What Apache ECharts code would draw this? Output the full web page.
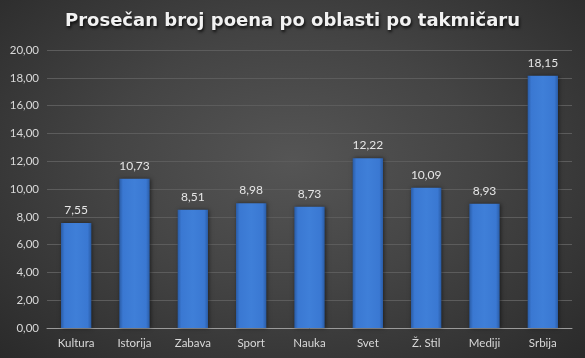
<!DOCTYPE html>
<html><head><meta charset="utf-8">
<script src="https://cdn.jsdelivr.net/npm/echarts@6/dist/echarts.min.js"></script>
<style>html,body{margin:0;padding:0;}#c{width:585px;height:358px;background:radial-gradient(ellipse at 50% 45%, #555555 0%, #444444 45%, #2a2a2a 100%);}</style>
</head><body><div id="c"></div>
<script>
const title = 'Prosečan broj poena po oblasti po takmičaru';
const categories = ['Kultura','Istorija','Zabava','Sport','Nauka','Svet','Ž. Stil','Mediji','Srbija'];
const values = [7.55, 10.73, 8.51, 8.98, 8.73, 12.22, 10.09, 8.93, 18.15];
const fmt = v => v.toFixed(2).replace('.', ',');
const chart = echarts.init(document.getElementById('c'), null, {renderer:'canvas'});
chart.setOption({
  backgroundColor: 'transparent',
  animation: false,
  title: {
    text: title, left: 'center', top: 7,
    textStyle: {color:'#f2f2f2', fontFamily:'DejaVu Sans', fontWeight:'bold', fontSize:18,
      textShadowColor:'rgba(0,0,0,0.8)', textShadowBlur:3, textShadowOffsetX:1, textShadowOffsetY:2}
  },
  grid: {left:47, right:13, top:50, bottom:30, containLabel:false},
  xAxis: {
    type:'category', data: categories,
    axisLine:{lineStyle:{color:'#9a9a9a', width:1}},
    axisTick:{show:false},
    axisLabel:{color:'#d9d9d9', fontFamily:'Lato', fontSize:11.5, margin:9}
  },
  yAxis: {
    type:'value', min:0, max:20, interval:2,
    axisLine:{show:false}, axisTick:{show:false},
    splitLine:{lineStyle:{color:'#5c5c5c', width:1}},
    axisLabel:{color:'#d9d9d9', fontFamily:'Lato', fontSize:11.5, margin:8, formatter: v => fmt(v)}
  },
  series: [{
    type:'bar', data: values, barWidth:'52%',
    itemStyle:{
      color: new echarts.graphic.LinearGradient(0,0,1,0,[
        {offset:0, color:'#2a5ca6'},{offset:0.12, color:'#3a78d2'},
        {offset:0.5, color:'#3f7fd8'},{offset:0.88, color:'#3a78d2'},{offset:1, color:'#2a5ca6'}]),
      shadowColor:'rgba(0,0,0,0.5)', shadowBlur:4, shadowOffsetX:1, shadowOffsetY:0
    },
    label:{show:true, position:'top', distance:7, color:'#e6e6e6', fontFamily:'Lato', fontSize:12, formatter: p => fmt(p.value)}
  }]
});
</script></body></html>
